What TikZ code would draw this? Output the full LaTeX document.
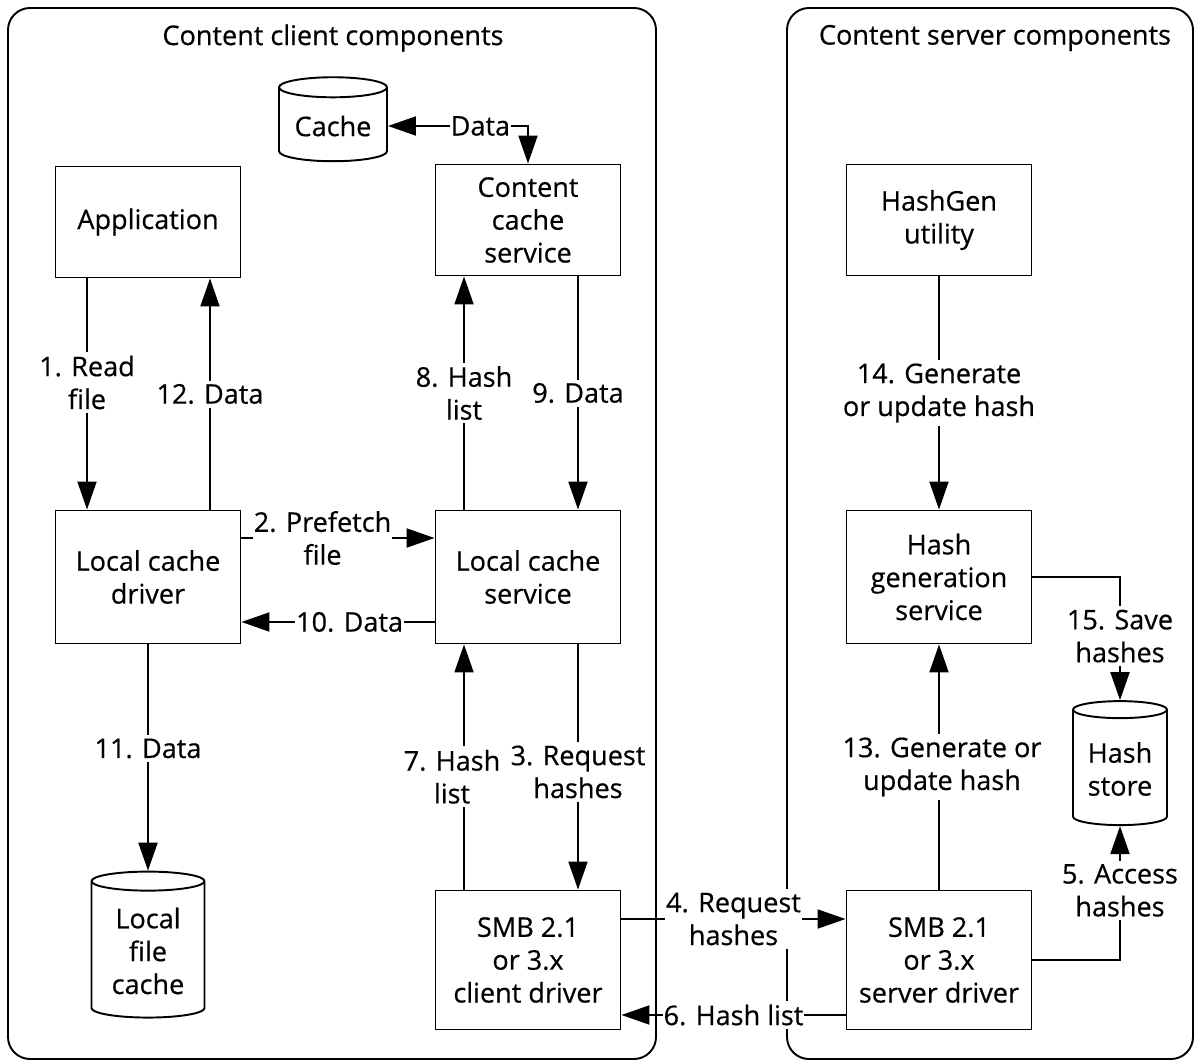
\documentclass[tikz,border=0pt]{standalone}
\usepackage{fontspec}
\setmainfont{Open Sans}[FakeBold=0.5]
\usepackage{tikz}
\usetikzlibrary{arrows.meta}
\usetikzlibrary{shapes.geometric}
\usetikzlibrary{calc}

\begin{document}
\begin{tikzpicture}[x=0.02cm, y=-0.02cm,
    font=\fontsize{15.4}{18.7}\selectfont,
    line width=1.1pt,
    >={Triangle[length=5.6mm, width=3.8mm]},
    box/.style={draw, align=center, minimum width=3.7cm, inner sep=2pt},
    store/.style={draw, cylinder, shape border rotate=90, aspect=0.25, align=center, inner sep=1pt},
    lbl/.style={fill=white, align=center, inner xsep=0.5pt, inner ysep=2pt}]
    \useasboundingbox (0,0) rectangle (1197,1061);

    \draw[rounded corners=0.44cm] (8,8) rectangle (656,1059);
    \draw[rounded corners=0.44cm] (787,8) rectangle (1193,1059);
    \node (clienttitle) at (333,38) {Content client components};
    \node (servertitle) at (995,38) {Content server components};

    \node[store, minimum width=2.16cm, minimum height=1.68cm] (cache) at (333,126) {Cache};
    \node[box, minimum height=2.22cm] (app) at (148,222) {Application};
    \node[box, minimum height=2.22cm] (ccs) at (528,220) {Content\\cache\\service};
    \node[box, minimum height=2.22cm] (hashgen) at (939,220) {HashGen\\utility};

    \node[box, minimum height=2.66cm] (lcd) at (148,577) {Local cache\\driver};
    \node[box, minimum height=2.66cm] (lcs) at (528,577) {Local cache\\service};
    \node[box, minimum height=2.66cm] (hgs) at (939,577) {Hash\\generation\\service};

    \node[store, minimum width=2.26cm, minimum height=2.92cm] (lfc) at (148,951) {Local\\file\\cache};
    \node[box, minimum height=2.78cm] (smbc) at (528,960) {SMB 2.1\\or 3.x\\client driver};
    \node[box, minimum height=2.78cm] (smbs) at (939,960) {SMB 2.1\\or 3.x\\server driver};
    \node[store, minimum width=1.88cm, minimum height=2.48cm] (hstore) at (1120,769) {Hash\\store};

    \draw[<->] (cache.east) -- node[lbl, pos=0.66] {Data} (cache.east -| ccs.north) -- (ccs.north);

    \draw[->] ([xshift=-1.22cm]app.south) -- node[lbl, pos=0.45] {1. Read\\file} ([xshift=-1.22cm]lcd.north);
    \draw[->] ([xshift=1.24cm]lcd.north) -- node[lbl] {12. Data} ([xshift=1.24cm]app.south);
    \draw[->] ([xshift=-1.28cm]lcs.north) -- node[lbl] {8. Hash\\list} ([xshift=-1.28cm]ccs.south);
    \draw[->] ([xshift=1cm]ccs.south) -- node[lbl] {9. Data} ([xshift=1cm]lcs.north);

    \draw[->] ([yshift=0.78cm]lcd.east) -- node[lbl, pos=0.42] {2. Prefetch\\file} ([yshift=0.78cm]lcs.west);
    \draw[->] ([yshift=-0.9cm]lcs.west) -- node[lbl, pos=0.44] {10. Data} ([yshift=-0.9cm]lcd.east);
    \draw[->] (lcd.south) -- node[lbl, pos=0.46] {11. Data} (lfc.top);

    \draw[->] ([xshift=1cm]lcs.south) -- node[lbl, pos=0.52] {3. Request\\hashes} ([xshift=1cm]smbc.north);
    \draw[->] ([xshift=-1.28cm]smbc.north) -- node[lbl, pos=0.46, xshift=-0.24cm] {7. Hash\\list} ([xshift=-1.28cm]lcs.south);

    \draw[->] ([yshift=0.82cm]smbc.east) -- node[lbl] {4. Request\\hashes} ([yshift=0.82cm]smbs.west);
    \draw[->] ([yshift=-1.1cm]smbs.west) -- node[lbl] {6. Hash list} ([yshift=-1.1cm]smbc.east);

    \draw[->] (hashgen.south) -- node[lbl] {14. Generate\\or update hash} (hgs.north);
    \draw[->] (smbs.north) -- node[lbl, xshift=0.06cm] {13. Generate or\\update hash} (hgs.south);
    \draw[->] (hgs.east) -- (hgs.east -| hstore.top) -- node[lbl, pos=0.48] {15. Save\\hashes} (hstore.top);
    \draw[->] (smbs.east) -- (smbs.east -| hstore.bottom) -- node[lbl, pos=0.52] {5. Access\\hashes} (hstore.bottom);
\end{tikzpicture}
\end{document}
